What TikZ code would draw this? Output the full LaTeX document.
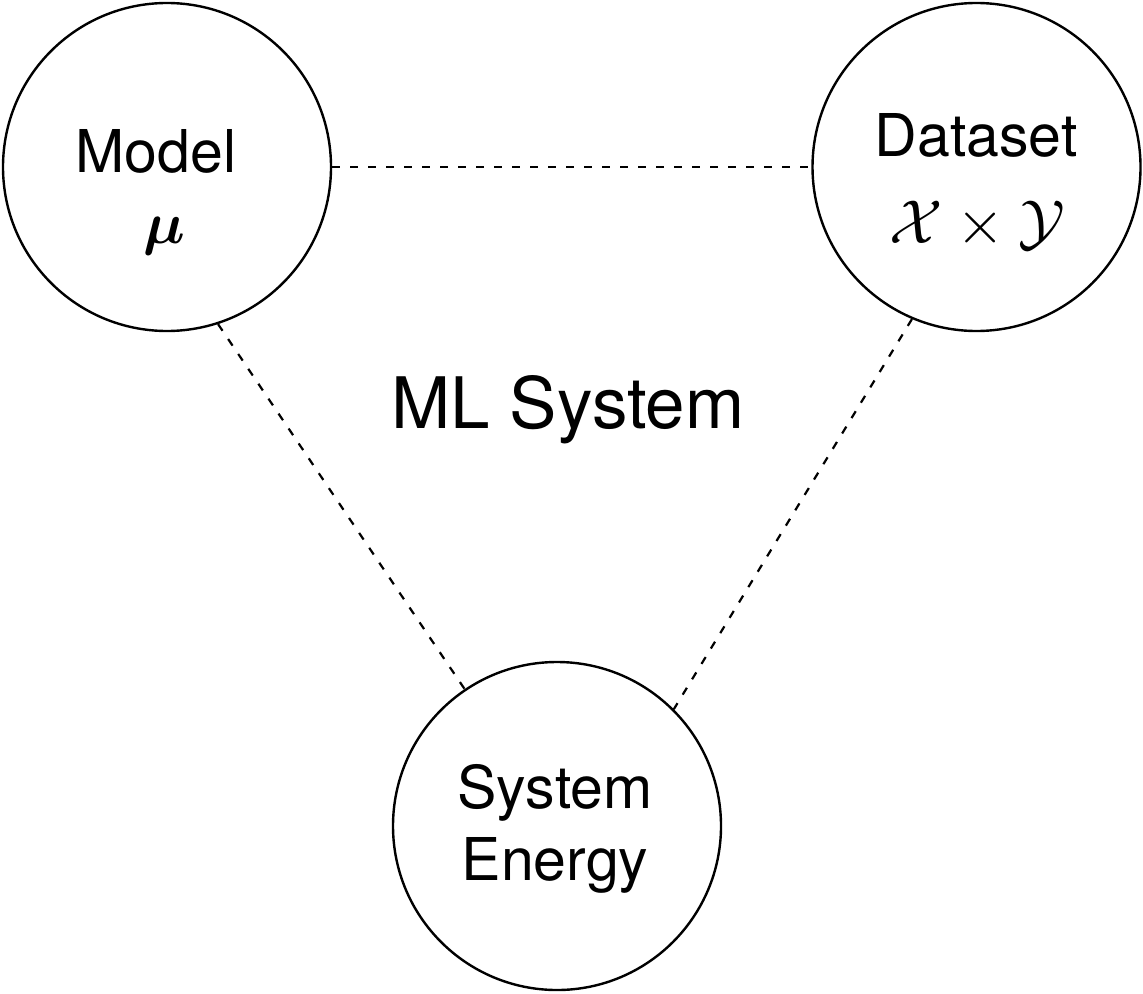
\documentclass[tikz,border=0pt]{standalone}
\usepackage{fix-cm}
\usepackage{amsmath}
\usepackage{bm}
\usepackage{fontspec}
\setmainfont{TeX Gyre Heros}

\begin{document}
\begin{tikzpicture}[x=0.5pt,y=0.5pt,
    ball/.style={draw,circle,line width=1.2pt,minimum size=164pt,inner sep=0pt},
    lbl/.style={anchor=base,inner sep=0pt,font=\fontsize{29.5}{35}\selectfont},
    link/.style={line width=1.1pt,dash pattern=on 4pt off 5pt}]
    \useasboundingbox (0,0) rectangle (1143,993);
    \node[ball] (model) at (167,826) {};
    \node[ball] (data) at (976.5,826) {};
    \node[ball] (energy) at (557,167) {};
    \node[lbl] (modelname) at (156,821) {Model};
    \node[lbl] (modelsym) at (164,750) {$\bm{\mu}$};
    \node[lbl] (dataname) at (976,836) {Dataset};
    \node[lbl,font=\fontsize{31}{37}\selectfont] (datasym) at (977.5,750) {$\mathcal{X}\times\mathcal{Y}$};
    \node[lbl] (energyname) at (555,185) {System};
    \node[lbl] (energyname2) at (555,113) {Energy};
    \node[lbl,font=\fontsize{35.5}{42}\selectfont] (system) at (568,565) {ML System};
    \draw[link] (model.east) -- (data.west);
    \draw[link] (model.-72) -- (energy.124);
    \draw[link] (data.-113.5) -- (energy.45);
\end{tikzpicture}
\end{document}
